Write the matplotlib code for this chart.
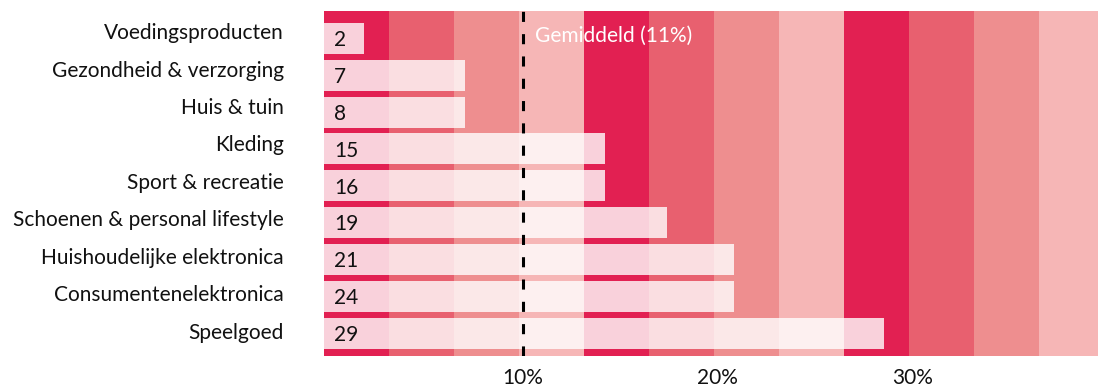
import matplotlib
matplotlib.use("Agg")
import matplotlib.pyplot as plt
import numpy as np

plt.rcParams['font.family'] = ['Lato', 'DejaVu Sans']

# data
categories = ["Voedingsproducten", "Gezondheid & verzorging", "Huis & tuin", "Kleding",
              "Sport & recreatie", "Schoenen & personal lifestyle",
              "Huishoudelijke elektronica", "Consumentenelektronica", "Speelgoed"]
bar_labels = ["2", "7", "8", "15", "16", "19", "21", "24", "29"]
bar_values = [1.85, 7.03, 7.03, 14.2, 14.2, 17.4, 20.8, 20.8, 28.5]
average = 10.0
average_label = "Gemiddeld (11%)"
ticks = [10, 20, 30]
tick_labels = ["10%", "20%", "30%"]

band_colors = ["#E22052", "#E8606F", "#EE8E8F", "#F6B6B6"]

fig = plt.figure(figsize=(10.98, 3.9), dpi=100)
ax = fig.add_axes([324/1098, 34/390, 774/1098, 345/390])

x0, x1 = -0.2, 39.49
band_w = 10/3

# background bands
for k in range(12):
    ax.axvspan(x0 + k*band_w, x0 + (k+1)*band_w, color=band_colors[k % 4], lw=0, zorder=0)

y = np.arange(len(categories))
vals = np.array(bar_values)
ax.barh(y, vals - x0, left=x0, height=0.84, color="white", alpha=0.8, lw=0, zorder=2)

# numbers inside bars
for i, lab in enumerate(bar_labels):
    ax.text(0.013, i + 0.21, lab, transform=ax.get_yaxis_transform(),
            ha="left", va="baseline", fontsize=15, color="#111111", zorder=4)

# category labels
label_y = np.linspace(0.02, 8.15, len(categories))
for ly, cat in zip(label_y, categories):
    ax.text(-40/774, ly, cat, transform=ax.get_yaxis_transform(),
            ha="right", va="baseline", fontsize=15, color="#111111", clip_on=False)

# average line
ax.axvline(average, color="black", lw=2.2, dashes=(3.3, 4), zorder=3)
ax.text(average + 0.6, 0.1, average_label, ha="left", va="baseline",
        fontsize=15, color="white", zorder=4)

ax.set_xlim(x0, x1)
ax.set_ylim(len(categories) - 1 + 0.615, -0.74)
ax.set_xticks(ticks)
ax.set_xticklabels(tick_labels, fontsize=15, color="#111111")
ax.set_yticks([])
ax.tick_params(axis="x", length=0, pad=9)
for s in ax.spines.values():
    s.set_visible(False)

fig.savefig("out.png", dpi=100)
